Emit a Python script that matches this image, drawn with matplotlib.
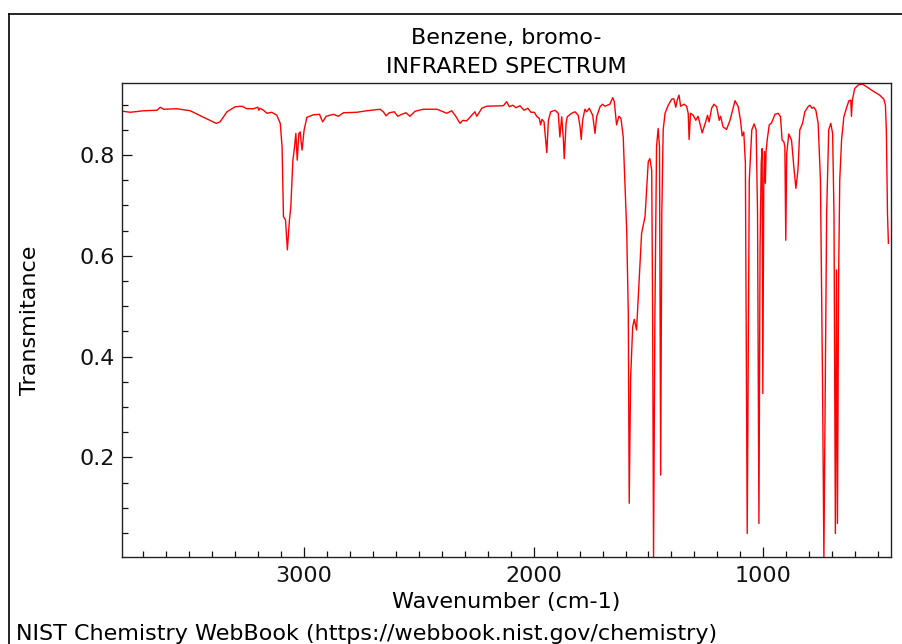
import matplotlib
matplotlib.use("Agg")
import matplotlib.pyplot as plt
from matplotlib.lines import Line2D
from matplotlib.ticker import MultipleLocator

plt.rcParams['font.family'] = ['DejaVu Sans']

title_line1 = "Benzene, bromo-"
title_line2 = "INFRARED SPECTRUM"
x_label = "Wavenumber (cm-1)"
y_label = "Transmitance"
footer = "NIST Chemistry WebBook (https://webbook.nist.gov/chemistry)"

wavenumber = [
    3789, 3757, 3700, 3641, 3627, 3612, 3554, 3496, 3438, 3383, 3366, 3336, 3300, 3271,
    3249, 3221, 3202, 3197, 3192, 3177, 3162, 3141, 3119, 3104, 3096, 3090, 3081, 3073,
    3064, 3058, 3049, 3044, 3036, 3030, 3023, 3017, 3014, 3009, 3000, 2988, 2960, 2933,
    2926, 2919, 2904, 2872, 2851, 2829, 2771, 2727, 2669, 2655, 2643, 2629, 2607, 2592,
    2575, 2556, 2539, 2517, 2481, 2422, 2394, 2379, 2357, 2338, 2321, 2309, 2292, 2270,
    2256, 2248, 2226, 2205, 2132, 2118, 2106, 2091, 2077, 2060, 2042, 2026, 2012, 1997,
    1987, 1976, 1970, 1964, 1955, 1943, 1936, 1926, 1907, 1893, 1886, 1878, 1871, 1867,
    1859, 1854, 1835, 1820, 1806, 1798, 1793, 1787, 1777, 1769, 1758, 1743, 1733, 1726,
    1711, 1700, 1690, 1668, 1656, 1649, 1639, 1629, 1620, 1610, 1607, 1595, 1588, 1584,
    1578, 1569, 1562, 1552, 1540, 1530, 1515, 1508, 1501, 1494, 1486, 1482, 1478, 1472,
    1465, 1458, 1452, 1447, 1442, 1436, 1428, 1414, 1399, 1390, 1381, 1375, 1367, 1360,
    1345, 1334, 1327, 1323, 1317, 1305, 1294, 1284, 1266, 1251, 1243, 1236, 1225, 1215,
    1203, 1192, 1186, 1175, 1160, 1145, 1123, 1109, 1099, 1092, 1085, 1078, 1070, 1061,
    1050, 1040, 1031, 1025, 1019, 1014, 1009, 1005, 1002, 998, 995, 991, 988, 983,
    974, 964, 949, 935, 925, 918, 910, 906, 902, 898, 889, 877, 867, 858,
    849, 841, 829, 819, 805, 797, 788, 780, 771, 761, 751, 742, 736, 730,
    724, 715, 706, 698, 692, 686, 681, 677, 672, 667, 659, 649, 638, 627,
    619, 616, 612, 602, 587, 568, 551, 522, 493, 475, 468, 464, 459, 455,
]
transmittance = [
    0.887, 0.885, 0.888, 0.889, 0.895, 0.891, 0.892, 0.888, 0.875, 0.863, 0.866, 0.886, 0.896, 0.897,
    0.892, 0.892, 0.895, 0.889, 0.893, 0.889, 0.883, 0.885, 0.879, 0.863, 0.816, 0.678, 0.671, 0.612,
    0.671, 0.697, 0.790, 0.807, 0.843, 0.790, 0.843, 0.846, 0.830, 0.810, 0.850, 0.875, 0.880, 0.881,
    0.873, 0.866, 0.877, 0.881, 0.877, 0.884, 0.885, 0.888, 0.891, 0.886, 0.878, 0.884, 0.886, 0.877,
    0.881, 0.884, 0.877, 0.887, 0.891, 0.891, 0.886, 0.883, 0.888, 0.876, 0.863, 0.869, 0.868, 0.879,
    0.886, 0.877, 0.893, 0.897, 0.898, 0.906, 0.896, 0.899, 0.894, 0.898, 0.889, 0.893, 0.885, 0.885,
    0.877, 0.873, 0.860, 0.871, 0.866, 0.805, 0.869, 0.886, 0.889, 0.883, 0.836, 0.876, 0.833, 0.793,
    0.863, 0.876, 0.883, 0.886, 0.879, 0.856, 0.831, 0.869, 0.891, 0.886, 0.893, 0.879, 0.843, 0.876,
    0.896, 0.901, 0.897, 0.901, 0.914, 0.906, 0.860, 0.877, 0.873, 0.836, 0.797, 0.651, 0.486, 0.109,
    0.354, 0.459, 0.474, 0.453, 0.559, 0.645, 0.678, 0.731, 0.787, 0.793, 0.770, 0.486, 0.000, 0.486,
    0.816, 0.853, 0.816, 0.165, 0.685, 0.850, 0.883, 0.899, 0.911, 0.912, 0.895, 0.909, 0.919, 0.897,
    0.901, 0.897, 0.883, 0.831, 0.883, 0.879, 0.869, 0.877, 0.844, 0.866, 0.879, 0.866, 0.893, 0.901,
    0.896, 0.869, 0.877, 0.856, 0.851, 0.869, 0.908, 0.896, 0.868, 0.838, 0.846, 0.784, 0.049, 0.750,
    0.850, 0.862, 0.850, 0.684, 0.069, 0.618, 0.784, 0.813, 0.327, 0.737, 0.807, 0.744, 0.807, 0.830,
    0.860, 0.864, 0.881, 0.883, 0.876, 0.830, 0.826, 0.816, 0.631, 0.803, 0.842, 0.830, 0.777, 0.734,
    0.770, 0.850, 0.863, 0.886, 0.896, 0.899, 0.893, 0.895, 0.889, 0.863, 0.750, 0.354, 0.000, 0.354,
    0.685, 0.850, 0.863, 0.843, 0.684, 0.049, 0.572, 0.069, 0.552, 0.750, 0.830, 0.876, 0.893, 0.908,
    0.909, 0.877, 0.909, 0.932, 0.939, 0.941, 0.936, 0.927, 0.919, 0.911, 0.899, 0.850, 0.684, 0.625,
]

W, H = 903, 644
fig = plt.figure(figsize=(W / 100, H / 100), dpi=100)
fig.patch.set_facecolor("white")

L, R, T, B = 122.3, 890.7, 83.3, 556.7
ax = fig.add_axes([L / W, 1 - B / H, (R - L) / W, (B - T) / H])

ax.plot(wavenumber, transmittance, color="#ff0000", lw=1.0)

ax.set_xlim(3792, 445)
ax.set_ylim(0.003, 0.9425)

ax.xaxis.set_major_locator(MultipleLocator(1000))
ax.xaxis.set_minor_locator(MultipleLocator(100))
ax.yaxis.set_major_locator(MultipleLocator(0.2))
ax.yaxis.set_minor_locator(MultipleLocator(0.05))

ax.tick_params(axis="both", which="both", direction="in", top=False, right=False,
               labelsize=16, width=0.9, colors="#111111")
ax.tick_params(axis="both", which="major", length=7.5)
ax.tick_params(axis="both", which="minor", length=4)
ax.tick_params(axis="x", which="major", pad=7)
ax.tick_params(axis="y", which="major", pad=5)

for s in ax.spines.values():
    s.set_linewidth(1.0)
    s.set_color("#222222")

cx = (L + R) / 2 / W
fig.text(cx, 1 - 43.5 / H, title_line1, ha="center", va="baseline", fontsize=16)
fig.text(cx, 1 - 73 / H, title_line2, ha="center", va="baseline", fontsize=16)
fig.text(cx, 1 - 608 / H, x_label, ha="center", va="baseline", fontsize=16)
fig.text(30 / W, 1 - 320 / H, y_label, ha="center", va="center", rotation=90, fontsize=16)
fig.text(16 / W, 1 - 640 / H, footer, ha="left", va="baseline", fontsize=16)

bx, by = 8.5 / W, 1 - 13.5 / H
fig.add_artist(Line2D([bx, bx], [0, by], transform=fig.transFigure, color="black", lw=1.2))
fig.add_artist(Line2D([bx, 1.0], [by, by], transform=fig.transFigure, color="black", lw=1.2))

fig.savefig("out.png", dpi=100)
